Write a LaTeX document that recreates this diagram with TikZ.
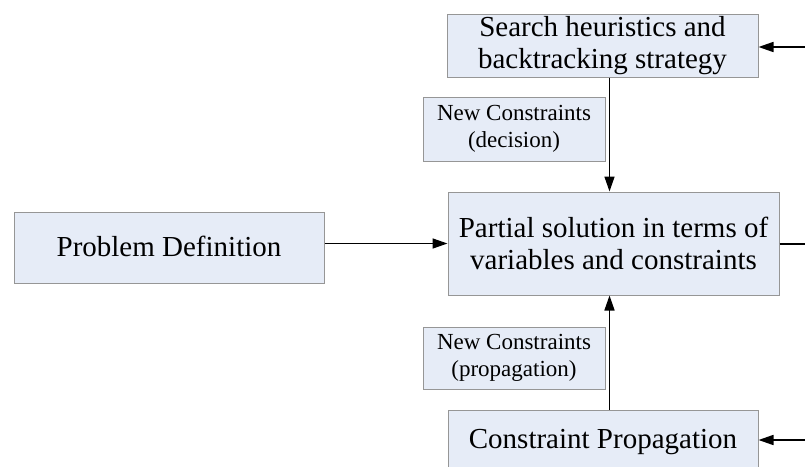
\documentclass[tikz,border=0pt]{standalone}
\usepackage{fontspec}
\setmainfont{Liberation Serif}
\usetikzlibrary{arrows.meta}
\definecolor{boxfill}{RGB}{230,236,247}
\definecolor{boxline}{RGB}{150,150,150}
\begin{document}
\begin{tikzpicture}[x=1pt,y=-1pt,
  blk/.style={draw=boxline, line width=1pt, fill=boxfill, rectangle,
    inner sep=0pt, align=center, font=\fontsize{29}{32}\selectfont},
  lbl/.style={blk, font=\fontsize{23}{27}\selectfont},
  wire/.style={line width=1.6pt},
  arr/.style={wire, -{Triangle[length=15pt,width=10pt]}}]
\useasboundingbox (0,0) rectangle (805,466);
\clip (0,0) rectangle (805,466);

% blocks
\node[blk, minimum width=310pt, minimum height=71pt] (prob) at (169,247.5)
  {\raisebox{3pt}{Problem Definition}};
\node[blk, minimum width=311pt, minimum height=63pt] (search) at (602.5,45.5)
  {Search heuristics and\\backtracking strategy};
\node[lbl, minimum width=182pt, minimum height=64pt] (lbdec) at (514,129)
  {New Constraints\\(decision)};
\node[blk, minimum width=331pt, minimum height=103pt] (part) at (613.5,243.5)
  {Partial solution in terms of\\variables and constraints};
\node[lbl, minimum width=182pt, minimum height=62pt] (lbprop) at (514,358)
  {New Constraints\\(propagation)};
\node[blk, minimum width=310pt, minimum height=64pt] (prop) at (603,442)
  {Constraint Propagation};

% anchor points for the connectors
\coordinate (spine) at (609.5,0);
\coordinate (inTop) at (805,47);
\coordinate (outMid) at (805,244);
\coordinate (inBot) at (805,440);

% connectors
\draw[arr] (prob.east |- part.west) -- (part.west);
\draw[arr] (search.south -| spine) -- (part.north -| spine);
\draw[arr] (prop.north -| spine) -- (part.south -| spine);
\draw[wire] (part.east |- outMid) -- (outMid);
\draw[arr] (inTop) -- (search.east |- inTop);
\draw[arr] (inBot) -- (prop.east |- inBot);
\end{tikzpicture}
\end{document}
